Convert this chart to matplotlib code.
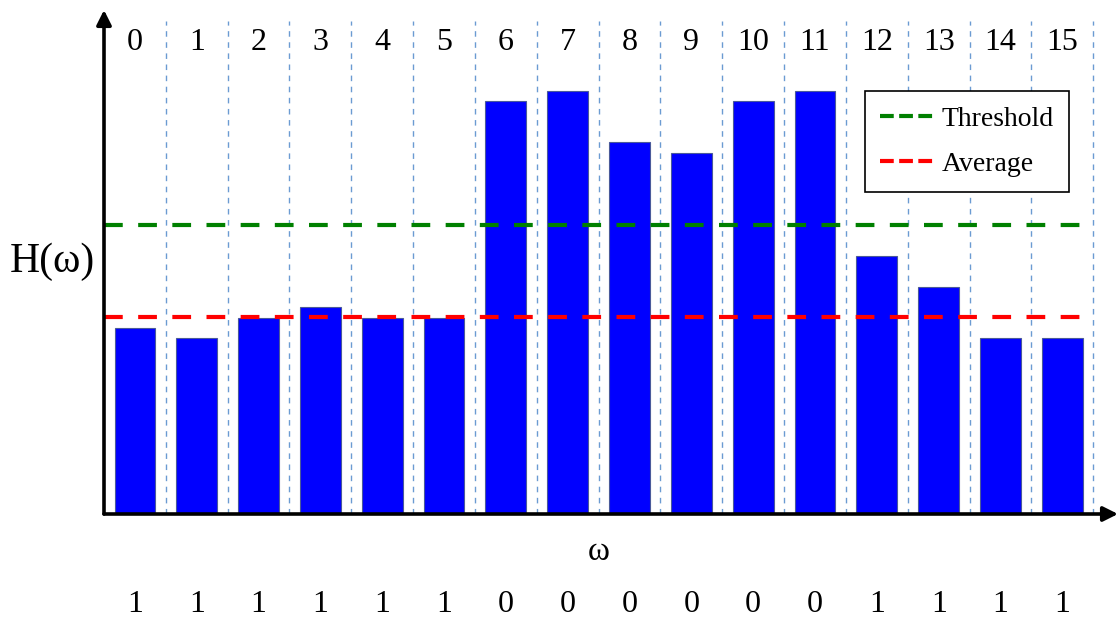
import matplotlib
matplotlib.use("Agg")
import matplotlib.pyplot as plt
from matplotlib.lines import Line2D

# =====================================================
# data (heights, arbitrary units)
# =====================================================
bins = list(range(16))
heights = [186, 176, 196, 207, 196, 196, 413, 423, 372, 361, 413, 423, 258, 227, 176, 176]
bits = [1, 1, 1, 1, 1, 1, 0, 0, 0, 0, 0, 0, 1, 1, 1, 1]
threshold = 289
average = 197
# =====================================================

SERIF = ["Liberation Serif", "DejaVu Serif"]
plt.rcParams["font.family"] = SERIF


def main():
    fig = plt.figure(figsize=(11.2, 6.2), dpi=100)
    # axes box in pixels: x 104..1118, y 10..514
    ax = fig.add_axes([104 / 1120, 106 / 620, 1014 / 1120, 504 / 620])
    ax.set_xlim(-0.5, 15.9)
    ax.set_ylim(0, 504)
    ax.axis("off")

    # dotted separators between bins
    for i in bins:
        ax.plot([i + 0.5, i + 0.5], [0, 493], color="#6b9bd2", lw=1,
                linestyle=(0, (4, 4)), zorder=1)

    ax.bar(bins, heights, width=0.66, color="#0000ff",
           edgecolor="#4a5a9a", linewidth=0.8, zorder=2)

    ax.plot([-0.5, 15.5], [threshold, threshold], color="#008000", lw=3,
            linestyle=(0, (4.5, 3.7)), zorder=3)
    ax.plot([-0.5, 15.5], [average, average], color="#ff0000", lw=3,
            linestyle=(0, (4.5, 3.7)), zorder=3)

    # axes with arrows
    ax.annotate("", xy=(0, 1), xytext=(0, 0), xycoords="axes fraction",
                arrowprops=dict(arrowstyle="-|>", color="black", lw=2.6,
                                mutation_scale=22, shrinkA=0, shrinkB=0))
    ax.annotate("", xy=(1, 0), xytext=(0, 0), xycoords="axes fraction",
                arrowprops=dict(arrowstyle="-|>", color="black", lw=2.6,
                                mutation_scale=22, shrinkA=0, shrinkB=0))

    # bin numbers on top and the bit row below
    for i in bins:
        ax.text(i, 471, str(i), ha="center", va="center", fontsize=23)
        ax.text(i, -90, str(bits[i]), ha="center", va="center",
                fontsize=23, clip_on=False)

    ax.text(7.5, -38, "ω", ha="center", va="center", fontsize=24,
            clip_on=False)
    fig.text(52 / 1120, 1 - 262 / 620, "H(ω)", ha="center", va="center",
             fontsize=30)

    handles = [
        Line2D([], [], color="#008000", lw=3, linestyle=(0, (3.3, 1.3))),
        Line2D([], [], color="#ff0000", lw=3, linestyle=(0, (3.3, 1.3))),
    ]
    leg = fig.legend(handles, ["Threshold", "Average"],
                     loc="upper left", bbox_to_anchor=(865 / 1120, 1 - 91 / 620),
                     borderaxespad=0, fontsize=20, frameon=True,
                     fancybox=False, edgecolor="black", framealpha=1,
                     handlelength=1.95, handletextpad=0.25, labelspacing=0.7,
                     borderpad=0.55)
    leg.get_frame().set_linewidth(1.2)

    fig.savefig("out.png", dpi=100)
    plt.close(fig)


if __name__ == "__main__":
    main()
